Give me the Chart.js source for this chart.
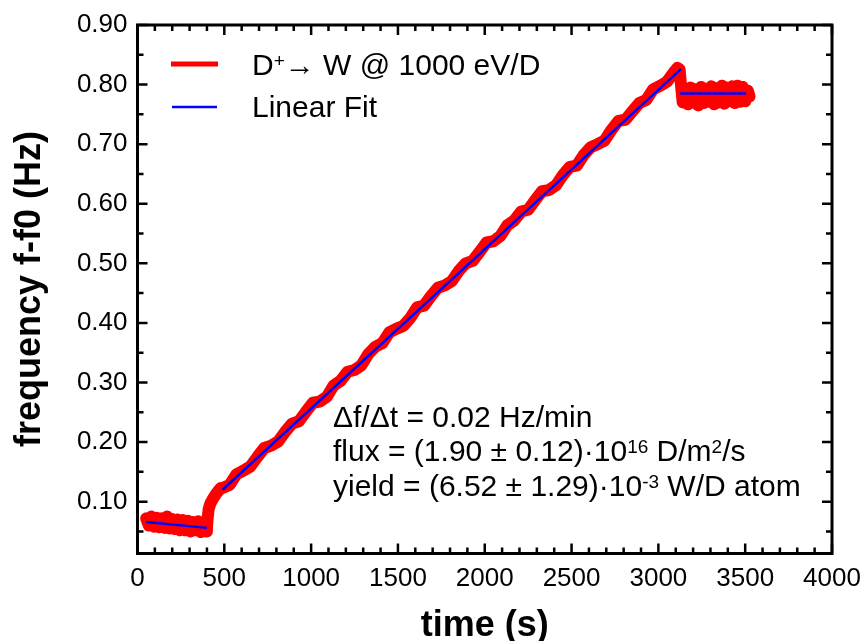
<!DOCTYPE html>
<html>
<head>
<meta charset="utf-8">
<script src="https://cdn.jsdelivr.net/npm/chart.js@4/dist/chart.umd.min.js"></script>
<style>
  html,body{margin:0;padding:0;background:#fff;}
  #wrap{width:864px;height:641px;}
</style>
</head>
<body>
<div id="wrap"><canvas id="c" width="864" height="641"></canvas></div>
<script>
// ---------- data ----------
const xTickValues = [0, 500, 1000, 1500, 2000, 2500, 3000, 3500, 4000];
const yTickValues = [0.10, 0.20, 0.30, 0.40, 0.50, 0.60, 0.70, 0.80, 0.90];
const xMinorStep = 100;
const yMinorStep = 0.05;

// measured signal (red)
const rawTime = [
  50, 65, 80, 95, 110, 125, 140, 155, 170, 185, 200, 215, 230, 245, 260, 275, 290, 305, 320, 335, 350, 365, 380, 395, 400,
  405, 410, 420, 435, 450, 465, 480,
  490, 530, 570, 610, 650, 690, 730, 770, 810, 850, 890, 930, 970, 1010, 1050, 1090, 1130, 1170, 1210, 1250,
  1290, 1330, 1370, 1410, 1450, 1490, 1530, 1570, 1610, 1650, 1690, 1730, 1770, 1810, 1850, 1890, 1930, 1970,
  2010, 2050, 2090, 2130, 2170, 2210, 2250, 2290, 2330, 2370, 2410, 2450, 2490, 2530, 2570, 2610, 2650, 2690,
  2730, 2770, 2810, 2850, 2890, 2930, 2970, 3010, 3050, 3090, 3110, 3122,
  3130, 3140, 3155, 3170, 3185, 3200, 3215, 3230, 3245, 3260, 3275, 3290, 3305, 3320, 3335, 3350, 3365, 3380,
  3395, 3410, 3425, 3440, 3455, 3470, 3485, 3500, 3515, 3525
];
const rawFreq = [
  0.072, 0.060, 0.075, 0.058, 0.073, 0.057, 0.072, 0.056, 0.075, 0.055, 0.071, 0.054, 0.070, 0.052, 0.069, 0.052, 0.068, 0.050, 0.066, 0.052, 0.067, 0.049, 0.066, 0.050, 0.058,
  0.075, 0.088, 0.097, 0.105, 0.112, 0.118, 0.123,
  0.123, 0.128, 0.146, 0.152, 0.159, 0.175, 0.190, 0.194, 0.201, 0.217, 0.231, 0.235, 0.251, 0.266, 0.268, 0.276, 0.295, 0.303, 0.318, 0.321,
  0.329, 0.348, 0.360, 0.366, 0.384, 0.390, 0.395, 0.408, 0.426, 0.429, 0.445, 0.459, 0.463, 0.470, 0.487, 0.500, 0.504, 0.519,
  0.535, 0.537, 0.546, 0.564, 0.572, 0.587, 0.590, 0.606, 0.621, 0.623, 0.631, 0.648, 0.662, 0.664, 0.682, 0.695, 0.700, 0.706,
  0.724, 0.739, 0.741, 0.755, 0.769, 0.774, 0.792, 0.798, 0.805, 0.821, 0.828, 0.826,
  0.800, 0.770, 0.793, 0.767, 0.795, 0.770, 0.792, 0.765, 0.796, 0.769, 0.793, 0.771, 0.797, 0.767, 0.794, 0.770, 0.798, 0.768,
  0.795, 0.772, 0.797, 0.769, 0.798, 0.771, 0.796, 0.772, 0.790, 0.780
];

// linear fits (blue), null separates the three fitted pieces
const fitTime = [50, 400, 400, 490, 3130, 3130, 3125, 3505];
const fitFreq = [0.066, 0.056, null, 0.120, 0.826, null, 0.785, 0.785];

const seriesLabels = ['D\u207A\u2192 W @ 1000 eV/D', 'Linear Fit'];

// ---------- chart ----------
const FONT = "'Liberation Sans', Arial, Helvetica, sans-serif";
const toXY = (xs, ys) => xs.map((x, i) => ({x: x, y: ys[i]}));

const framePlugin = {
  id: 'frame',
  beforeDraw(chart) {
    const ctx = chart.ctx;
    ctx.save();
    ctx.fillStyle = '#ffffff';
    ctx.fillRect(0, 0, chart.width, chart.height);
    ctx.restore();
  },
  afterDraw(chart) {
    const ctx = chart.ctx;
    const a = chart.chartArea;
    const xs = chart.scales.x, ys = chart.scales.y;
    ctx.save();
    ctx.strokeStyle = '#000';
    ctx.lineWidth = 2.5;
    ctx.lineCap = 'butt';
    // ticks (inward, on all four sides)
    const majorLen = 10, minorLen = 6;
    const drawX = (v, len) => {
      const p = xs.getPixelForValue(v);
      ctx.beginPath();
      ctx.moveTo(p, a.bottom); ctx.lineTo(p, a.bottom - len);
      ctx.moveTo(p, a.top); ctx.lineTo(p, a.top + len);
      ctx.stroke();
    };
    const drawY = (v, len) => {
      const p = ys.getPixelForValue(v);
      ctx.beginPath();
      ctx.moveTo(a.left, p); ctx.lineTo(a.left + len, p);
      ctx.moveTo(a.right, p); ctx.lineTo(a.right - len, p);
      ctx.stroke();
    };
    xTickValues.forEach(v => drawX(v, majorLen));
    for (let v = xMinorStep; v < xs.max; v += xMinorStep) {
      if (Math.abs(v % 500) > 1e-6) drawX(v, minorLen);
    }
    yTickValues.forEach(v => drawY(v, majorLen));
    for (let k = 1; k * yMinorStep < ys.max; k += 2) {
      const v = k * yMinorStep;
      if (v > ys.min) drawY(v, minorLen);
    }
    // frame
    ctx.lineWidth = 3;
    ctx.strokeRect(a.left, a.top, a.right - a.left, a.bottom - a.top);

    // legend
    ctx.lineWidth = 5;
    ctx.strokeStyle = '#ff0000';
    ctx.beginPath(); ctx.moveTo(171, 64); ctx.lineTo(218, 64); ctx.stroke();
    ctx.lineWidth = 2.5;
    ctx.strokeStyle = '#0000ff';
    ctx.beginPath(); ctx.moveTo(172, 107); ctx.lineTo(217, 107); ctx.stroke();

    ctx.fillStyle = '#000';
    ctx.textBaseline = 'alphabetic';
    ctx.textAlign = 'left';
    const big = '30px ' + FONT, small = '19px ' + FONT;
    const run = (pieces, x, y) => {
      pieces.forEach(([t, sup]) => {
        ctx.font = sup ? small : big;
        ctx.fillText(t, x, sup ? y - 8 : y);
        x += ctx.measureText(t).width;
      });
    };
    run([['D', false], ['+', true], ['\u2192 W @ 1000 eV/D', false]], 252, 75);
    run([['Linear Fit', false]], 252, 117);

    // annotation
    run([['\u0394f/\u0394t = 0.02 Hz/min', false]], 333, 427);
    run([['flux = (1.90 \u00B1 0.12)\u00B710', false], ['16', true], [' D/m', false], ['2', true], ['/s', false]], 333, 461);
    run([['yield = (6.52 \u00B1 1.29)\u00B710', false], ['-3', true], [' W/D atom', false]], 333, 496);

    // axis titles
    ctx.font = 'bold 36px ' + FONT;
    ctx.textAlign = 'center';
    ctx.fillText('time (s)', (a.left + a.right) / 2, 636);
    ctx.save();
    ctx.translate(40, 289);
    ctx.rotate(-Math.PI / 2);
    ctx.fillText('frequency f-f0 (Hz)', 0, 0);
    ctx.restore();
    ctx.restore();
  }
};

new Chart(document.getElementById('c'), {
  type: 'line',
  data: {
    datasets: [
      {
        label: seriesLabels[0],
        data: toXY(rawTime, rawFreq),
        borderColor: '#ff0000',
        backgroundColor: '#ff0000',
        borderWidth: 12,
        borderJoinStyle: 'round',
        borderCapStyle: 'round',
        pointRadius: 0,
        tension: 0,
        fill: false,
        order: 2
      },
      {
        label: seriesLabels[1],
        data: toXY(fitTime, fitFreq),
        borderColor: '#0000ff',
        backgroundColor: '#0000ff',
        borderWidth: 2.5,
        pointRadius: 0,
        tension: 0,
        spanGaps: false,
        fill: false,
        order: 1
      }
    ]
  },
  options: {
    responsive: false,
    animation: false,
    devicePixelRatio: 1,
    layout: {padding: {left: 0, right: 32, top: 25, bottom: 0}},
    plugins: {legend: {display: false}, tooltip: {enabled: false}, title: {display: false}},
    scales: {
      x: {
        type: 'linear',
        position: 'bottom',
        min: 0, max: 4000,
        afterBuildTicks: s => { s.ticks = xTickValues.map(v => ({value: v})); },
        afterFit: s => { s.height = 87.5; s.paddingLeft = 0; s.paddingRight = 0; },
        grid: {display: false, drawTicks: false},
        border: {display: false},
        ticks: {
          color: '#000', padding: 10, maxRotation: 0, autoSkip: false,
          font: {family: FONT, size: 26},
          callback: v => String(v)
        }
      },
      y: {
        type: 'linear',
        position: 'left',
        min: 0.013, max: 0.90,
        afterBuildTicks: s => { s.ticks = yTickValues.map(v => ({value: v})); },
        afterFit: s => { s.width = 137.5; s.paddingTop = 0; s.paddingBottom = 0; },
        grid: {display: false, drawTicks: false},
        border: {display: false},
        ticks: {
          color: '#000', padding: 10, autoSkip: false,
          font: {family: FONT, size: 26},
          callback: v => Number(v).toFixed(2)
        }
      }
    }
  },
  plugins: [framePlugin]
});
</script>
</body>
</html>
